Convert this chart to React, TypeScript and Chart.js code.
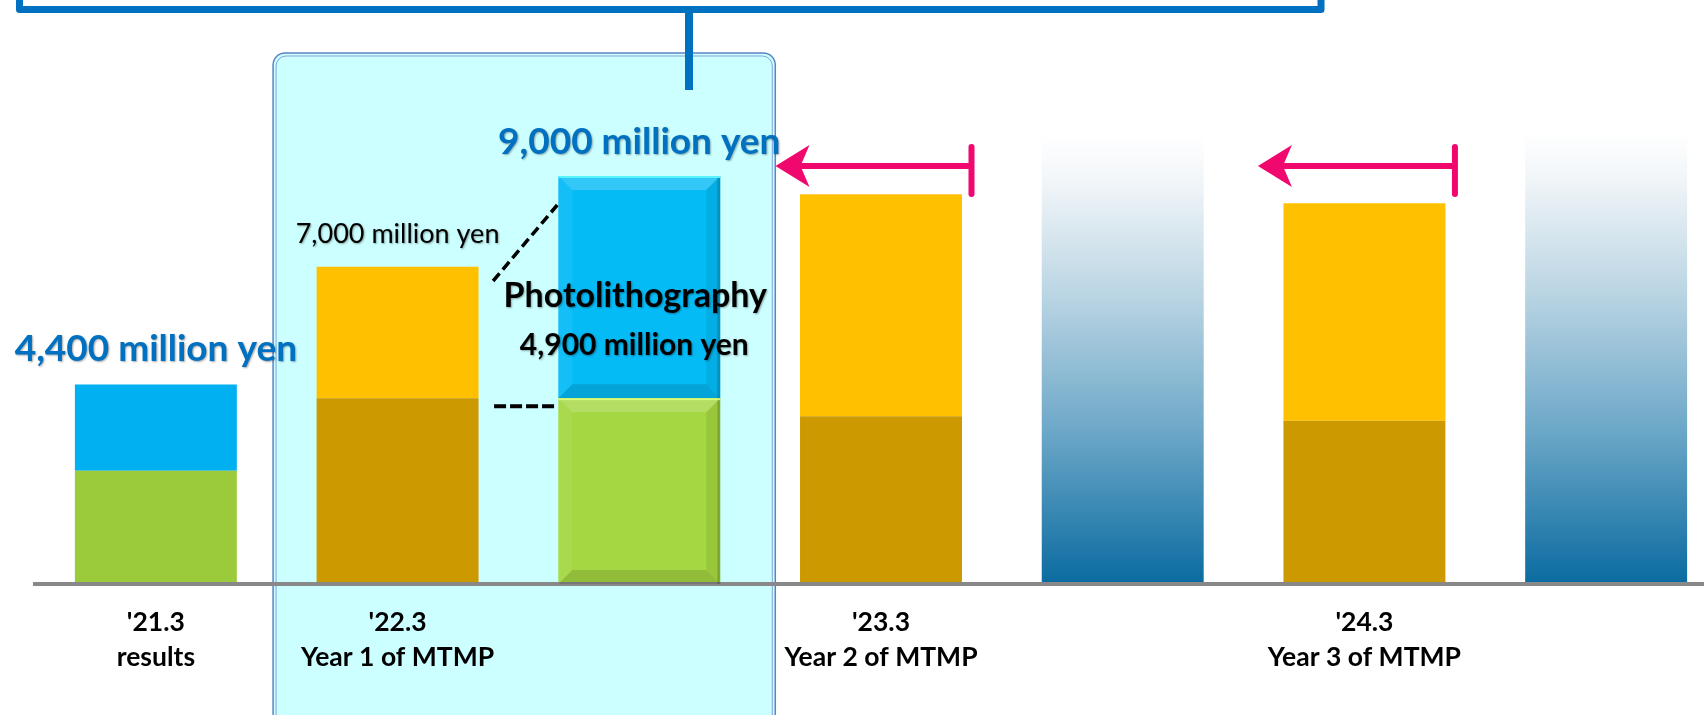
import React, { useEffect, useRef } from "react";
import { Chart, registerables } from "chart.js";

Chart.register(...registerables);

// ---- data (million yen) ----
const categories: (string | string[])[] = [
  ["'21.3", "results"],
  ["'22.3", "Year 1 of MTMP"],
  "",
  ["'23.3", "Year 2 of MTMP"],
  "",
  ["'24.3", "Year 3 of MTMP"],
  "",
];
const baseValues = [2500, 4100, 4100, 3700, null, 3600, null];
const upperValues = [1900, 2900, 4900, 4900, null, 4800, null];
const outlookValues = [null, null, null, null, 9900, null, 10000];
const baseColors = ["#9BCB3B", "#CC9900", "#A4D741", "#CC9900", "#CC9900", "#CC9900", "#CC9900"];
const upperColors = ["#00B0F0", "#FFC000", "#05BBF6", "#FFC000", "#FFC000", "#FFC000", "#FFC000"];
const totalLabels = ["4,400 million yen", "7,000 million yen", "9,000 million yen"];
const photoLabels = ["Photolithography", "4,900 million yen"];
const totals = [4400, 7000, 9000];
const yMax = 12000;

const FONT = "Lato, 'Open Sans', sans-serif";
const BLUE = "#0070C0";
const PINK = "#F0086F";

function roundRect(ctx: CanvasRenderingContext2D, x: number, y: number, w: number, h: number, r: number) {
  ctx.beginPath();
  ctx.moveTo(x + r, y);
  ctx.lineTo(x + w - r, y);
  ctx.arcTo(x + w, y, x + w, y + r, r);
  ctx.lineTo(x + w, y + h - r);
  ctx.arcTo(x + w, y + h, x + w - r, y + h, r);
  ctx.lineTo(x + r, y + h);
  ctx.arcTo(x, y + h, x, y + h - r, r);
  ctx.lineTo(x, y + r);
  ctx.arcTo(x, y, x + r, y, r);
  ctx.closePath();
}

function poly(ctx: CanvasRenderingContext2D, pts: number[][], fill: string) {
  ctx.beginPath();
  ctx.moveTo(pts[0][0], pts[0][1]);
  for (let i = 1; i < pts.length; i++) ctx.lineTo(pts[i][0], pts[i][1]);
  ctx.closePath();
  ctx.fillStyle = fill;
  ctx.fill();
}

function bevel(ctx: CanvasRenderingContext2D, l: number, t: number, r: number, b: number, s: number, hi: string) {
  poly(ctx, [[l, t], [r, t], [r - s, t + s], [l + s, t + s]], "rgba(255,255,255,0.18)");
  poly(ctx, [[l, t], [l + s, t + s], [l + s, b - s], [l, b]], "rgba(255,255,255,0.06)");
  poly(ctx, [[r, t], [r, b], [r - s, b - s], [r - s, t + s]], "rgba(0,0,0,0.07)");
  poly(ctx, [[l, b], [l + s, b - s], [r - s, b - s], [r, b]], "rgba(0,0,0,0.12)");
  ctx.fillStyle = "rgba(0,0,0,0.16)";
  ctx.fillRect(r - 3, t, 3, b - t);
  ctx.fillStyle = hi;
  ctx.fillRect(l, t, r - l, 2);
}

function arrow(ctx: CanvasRenderingContext2D, tipX: number, endX: number, y: number) {
  ctx.save();
  ctx.strokeStyle = PINK;
  ctx.fillStyle = PINK;
  ctx.lineWidth = 6;
  ctx.beginPath();
  ctx.moveTo(tipX + 20, y);
  ctx.lineTo(endX, y);
  ctx.stroke();
  ctx.lineCap = "round";
  ctx.beginPath();
  ctx.moveTo(endX, y - 19);
  ctx.lineTo(endX, y + 28);
  ctx.stroke();
  ctx.beginPath();
  ctx.moveTo(tipX, y);
  ctx.lineTo(tipX + 34, y - 21);
  ctx.lineTo(tipX + 25, y);
  ctx.lineTo(tipX + 34, y + 21);
  ctx.closePath();
  ctx.fill();
  ctx.restore();
}

function text(ctx: CanvasRenderingContext2D, s: string, x: number, y: number, font: string, color: string, shadow: boolean) {
  ctx.save();
  ctx.font = font;
  ctx.textAlign = "center";
  ctx.textBaseline = "middle";
  if (shadow) {
    ctx.shadowColor = "rgba(0,0,0,0.35)";
    ctx.shadowOffsetX = 1;
    ctx.shadowOffsetY = 1;
    ctx.shadowBlur = 2;
  }
  ctx.fillStyle = color;
  ctx.fillText(s, x, y);
  ctx.restore();
}

const decorPlugin = {
  id: "decor",
  beforeDraw(chart: any) {
    const { ctx, scales } = chart;
    const x = scales.x;
    const left = x.getPixelForValue(1) - 124.5;
    const right = x.getPixelForValue(2) + 136;
    const top = 53;
    const h = chart.height + 40;
    ctx.save();
    roundRect(ctx, left, top, right - left, h, 12);
    ctx.fillStyle = "#CCFFFF";
    ctx.fill();
    ctx.strokeStyle = "#5B84C6";
    ctx.lineWidth = 1.5;
    ctx.stroke();
    roundRect(ctx, left + 3, top + 3, right - left - 6, h, 10);
    ctx.strokeStyle = "#86A3D8";
    ctx.lineWidth = 1;
    ctx.stroke();
    ctx.restore();
  },
  afterDraw(chart: any) {
    const { ctx, scales } = chart;
    const x = scales.x;
    const y = scales.y;
    const px = (i: number) => x.getPixelForValue(i);
    const py = (v: number) => y.getPixelForValue(v);

    // bevel on the photolithography bar
    const lowEl = chart.getDatasetMeta(0).data[2];
    const upEl = chart.getDatasetMeta(1).data[2];
    if (lowEl && upEl) {
      const lw = lowEl.getProps(["x", "y", "base", "width"], true);
      const uw = upEl.getProps(["x", "y", "base", "width"], true);
      ctx.save();
      bevel(ctx, lw.x - lw.width / 2, lw.y, lw.x + lw.width / 2, lw.base, 14, "rgba(220,255,120,0.9)");
      bevel(ctx, uw.x - uw.width / 2, uw.y, uw.x + uw.width / 2, uw.base, 14, "rgba(90,245,255,0.95)");
      ctx.restore();
    }

    // top bracket
    ctx.save();
    ctx.strokeStyle = BLUE;
    ctx.lineWidth = 7;
    ctx.lineJoin = "round";
    ctx.beginPath();
    ctx.moveTo(19.5, -6);
    ctx.lineTo(19.5, 9.5);
    ctx.lineTo(1321, 9.5);
    ctx.lineTo(1321, -6);
    ctx.stroke();
    ctx.lineWidth = 8;
    ctx.beginPath();
    ctx.moveTo(689, 9);
    ctx.lineTo(689, 90);
    ctx.stroke();
    ctx.restore();

    // dashed connectors
    ctx.save();
    ctx.strokeStyle = "#000";
    ctx.lineWidth = 3.5;
    ctx.setLineDash([10, 5]);
    ctx.beginPath();
    ctx.moveTo(px(1) + 95.5, 281);
    ctx.lineTo(px(2) - 82, 205);
    ctx.stroke();
    ctx.lineWidth = 4;
    ctx.setLineDash([12, 4]);
    ctx.beginPath();
    ctx.moveTo(px(1) + 96.5, py(4100) + 8);
    ctx.lineTo(px(2) - 83, py(4100) + 8);
    ctx.stroke();
    ctx.restore();

    // texts
    text(ctx, totalLabels[0], px(0), py(totals[0]) - 35, `bold 37px ${FONT}`, BLUE, true);
    text(ctx, totalLabels[1], px(1), py(totals[1]) - 32, `27px ${FONT}`, "#000", true);
    text(ctx, totalLabels[2], px(2), py(totals[2]) - 34, `bold 37px ${FONT}`, BLUE, true);
    text(ctx, photoLabels[0], px(2) - 4, 296, `bold 34px ${FONT}`, "#000", true);
    text(ctx, photoLabels[1], px(2) - 5, 345, `bold 30px ${FONT}`, "#000", true);

    // arrows
    arrow(ctx, px(3) - 105.5, px(3) + 90.5, 166);
    arrow(ctx, px(5) - 106.5, px(5) + 90.5, 166);
  },
};

export default function App() {
  const ref = useRef<HTMLCanvasElement | null>(null);

  useEffect(() => {
    if (!ref.current) return;
    const outlookColor = (c: any) => {
      const chart = c.chart;
      const y = chart.scales && chart.scales.y;
      if (!chart.chartArea || !y) return "#5A9DC2";
      const v = outlookValues[c.dataIndex] ?? 10000;
      const g = chart.ctx.createLinearGradient(0, y.getPixelForValue(v), 0, y.getPixelForValue(0));
      g.addColorStop(0, "#FFFFFF");
      g.addColorStop(0.1, "#F2F6F9");
      g.addColorStop(0.35, "#BCD6E4");
      g.addColorStop(0.65, "#6FA9C9");
      g.addColorStop(1, "#0A6BA0");
      return g;
    };
    const chart = new Chart(ref.current, {
      type: "bar",
      data: {
        labels: categories as any,
        datasets: [
          { label: "base", data: baseValues as any, backgroundColor: baseColors, borderWidth: 0 },
          { label: "upper", data: upperValues as any, backgroundColor: upperColors, borderWidth: 0 },
          { label: "outlook", data: outlookValues as any, backgroundColor: outlookColor, borderWidth: 0 },
        ],
      },
      options: {
        responsive: false,
        devicePixelRatio: 1,
        animation: false,
        layout: { padding: { left: 35, right: 3, top: 40, bottom: 0 } },
        datasets: { bar: { categoryPercentage: 1, barPercentage: 0.67 } },
        plugins: { legend: { display: false }, tooltip: { enabled: false }, title: { display: false } },
        scales: {
          x: {
            stacked: true,
            grid: { display: false, drawTicks: false },
            border: { display: true, color: "#888888", width: 4, z: 1 },
            afterFit: (s: any) => {
              s.height = 131;
            },
            ticks: {
              autoSkip: false,
              maxRotation: 0,
              padding: 21,
              color: "#000",
              font: { family: FONT, size: 26.5, weight: "bold", lineHeight: "35px" },
            },
          },
          y: { stacked: true, display: false, min: 0, max: yMax },
        },
      } as any,
      plugins: [decorPlugin],
    });
    return () => chart.destroy();
  }, []);

  return (
    <div style={{ position: "absolute", left: 0, top: 0, width: 1704, height: 715, overflow: "hidden", background: "#fff" }}>
      <canvas ref={ref} width={1730} height={715} style={{ display: "block" }} />
    </div>
  );
}
